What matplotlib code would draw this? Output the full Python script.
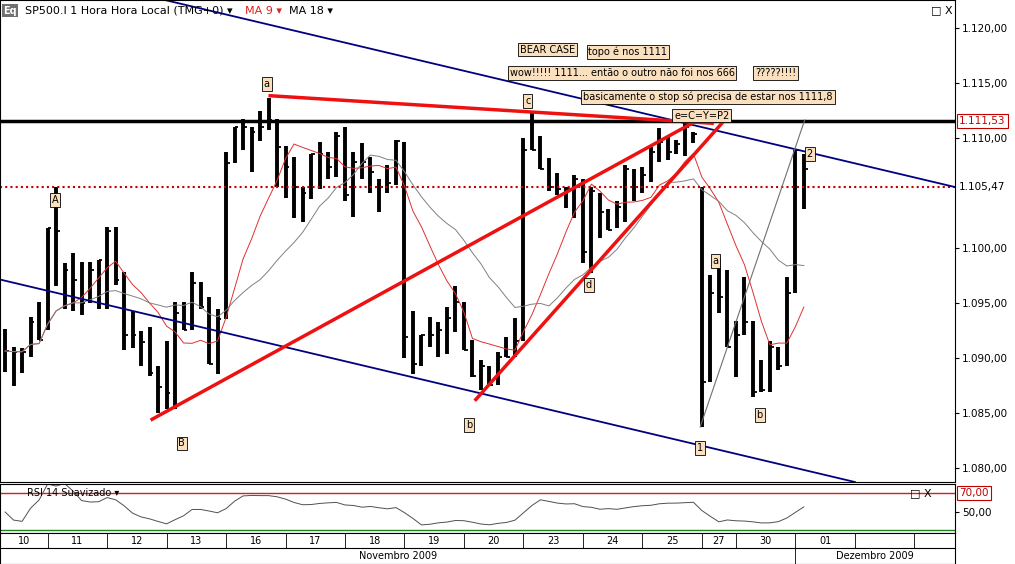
import matplotlib
matplotlib.use("Agg")
import matplotlib.pyplot as plt
import numpy as np
import pandas as pd

high = [1092.6,1091.0,1090.9,1093.7,1095.1,1101.8,1105.5,1098.6,1099.5,1098.7,1098.7,1098.9,1101.9,1101.9,1097.8,1094.2,1092.4,1092.8,1089.2,1091.5,
        1095.1,1095.1,1097.8,1096.9,1095.5,1094.4,1108.7,1111.0,1111.7,1111.0,1112.4,1113.6,1111.7,1109.2,1108.2,1105.5,1108.5,1109.6,1108.7,1110.5,
        1111.0,1108.7,1109.5,1108.2,1106.2,1107.5,1109.8,1109.6,1094.2,1092.1,1093.7,1093.2,1094.6,1096.5,1095.1,1091.6,1089.8,1089.2,1090.5,1091.9,
        1093.6,1110.0,1112.3,1110.1,1108.1,1106.8,1105.5,1106.6,1106.2,1105.5,1105.0,1103.5,1104.2,1107.5,1107.1,1107.3,1109.1,1110.9,1110.1,1109.8,
        1111.4,1110.5,1105.5,1097.5,1099.1,1098.0,1093.3,1097.3,1093.3,1089.8,1091.5,1091.0,1097.3,1108.9,1108.5]
low = [1088.7,1087.4,1088.6,1090.1,1091.6,1092.5,1096.5,1094.4,1094.2,1093.9,1095.0,1094.4,1094.4,1096.6,1090.7,1090.9,1089.2,1088.3,1085.0,1085.3,
       1085.3,1092.5,1092.5,1094.4,1089.4,1088.5,1093.5,1107.7,1108.9,1106.9,1109.7,1110.7,1105.5,1104.5,1102.7,1102.3,1104.4,1105.3,1106.2,1106.4,
       1104.2,1102.8,1106.2,1105.0,1103.2,1105.0,1105.7,1090.0,1088.5,1089.2,1091.0,1090.1,1090.3,1092.3,1090.7,1088.2,1087.1,1087.5,1087.5,1090.1,
       1090.1,1091.5,1108.9,1107.1,1105.1,1104.8,1103.6,1102.7,1098.6,1097.7,1100.9,1101.6,1101.8,1102.3,1104.2,1105.0,1106.0,1107.8,1108.0,1108.5,
       1108.3,1109.5,1083.7,1087.8,1094.1,1091.0,1088.2,1092.1,1086.4,1086.9,1086.9,1088.9,1089.2,1095.9,1103.5]
close = [1090.6,1090.5,1090.5,1093.2,1091.6,1101.8,1101.5,1098.0,1097.1,1095.0,1098.0,1098.9,1101.5,1097.1,1092.1,1092.1,1091.4,1088.6,1087.3,1086.8,
         1094.1,1092.5,1096.8,1094.6,1089.4,1093.5,1107.7,1111.0,1111.0,1110.5,1111.0,1111.6,1109.1,1107.3,1105.5,1105.0,1108.5,1108.5,1107.3,1110.1,
         1104.8,1107.8,1107.8,1106.9,1105.5,1105.9,1109.7,1091.9,1089.4,1092.1,1092.1,1092.5,1093.6,1095.1,1090.7,1088.3,1089.2,1087.5,1090.1,1090.1,
         1091.5,1108.9,1108.9,1107.1,1105.5,1105.3,1105.3,1106.2,1099.6,1105.1,1103.2,1101.6,1103.7,1107.1,1105.5,1106.6,1108.7,1109.6,1108.7,1109.4,
         1111.0,1110.3,1087.8,1095.9,1095.5,1091.0,1092.1,1093.2,1086.9,1087.1,1091.0,1089.2,1095.9,1108.9,1107.1]

day_labels = ["10","11","12","13","16","17","18","19","20","23","24","25","27","30","01","",""]
day_starts = [-0.6,5,12,19,26,33,40,47,54,61,68,75,82,86,93,100,107,111.8]
yticks = [1080,1085,1090,1095,1100,1110,1115,1120]
level_black = 1111.53
level_red = 1105.47
upper_channel = ([18.8,111.8],[1122.5,1105.5])
lower_channel = ([-0.6,100.0],[1097.1,1078.7])
red_lines = [([17.3,81.2],[1084.4,1111.45]),([31.2,83.2],[1113.8,1111.3]),([55.4,84.7],[1086.2,1111.6])]
grey_line = ([81.8,94.1],[1083.7,1111.6])
labels = [("A",5.9,1104.3),("B",20.8,1082.2),("a",30.8,1114.9),("b",54.6,1083.9),("c",61.5,1113.3),
          ("d",68.7,1096.6),("a",83.6,1098.8),("b",88.8,1084.8),("1",81.8,1081.8),("2",94.7,1108.5),
          ("BEAR CASE",63.8,1118.0),("topo é nos 1111",73.3,1117.8),
          ("wow!!!!! 1111... então o outro não foi nos 666",72.6,1115.9),("?????!!!!",90.7,1115.9),
          ("basicamente o stop só precisa de estar nos 1111,8",82.7,1113.7),("e=C=Y=P2",82.0,1112.0)]

def fmt(v):
    s = f"{v:,.2f}"
    return s.replace(",", "X").replace(".", ",").replace("X", ".")

c = pd.Series(close)
ma9 = c.rolling(9, min_periods=1).mean()
ma18 = c.rolling(18, min_periods=1).mean()
d = c.diff().fillna(0)
up = d.clip(lower=0).ewm(alpha=1/14, adjust=True).mean() + 0.05
dn = (-d.clip(upper=0)).ewm(alpha=1/14, adjust=True).mean() + 0.05
rsi = (100 - 100/(1 + up/dn)).rolling(3, min_periods=1).mean()

x = np.arange(len(close))
XL = (-0.6, 111.8)
fig = plt.figure(figsize=(10.15, 5.64), dpi=100)
ax = fig.add_axes([0, 0.1454, 0.941, 0.8546])
ax.set_xlim(*XL); ax.set_ylim(1078.7, 1122.5)
ax.vlines(x, low, high, color="black", lw=2.8)
ax.hlines(close, x, x + 0.45, color="black", lw=1.3)
ax.plot(x, ma9, color="#e03030", lw=0.7)
ax.plot(x, ma18, color="#808080", lw=0.7)
ax.axhline(level_black, color="black", lw=2.5)
ax.axhline(level_red, color="#c00000", lw=1.5, ls=(0, (1, 1.5)))
ax.plot(*upper_channel, color="#000080", lw=1.3)
ax.plot(*lower_channel, color="#000080", lw=1.3)
for lx, ly in red_lines:
    ax.plot(lx, ly, color="#ee1111", lw=2.5)
ax.plot(*grey_line, color="#707070", lw=0.8)
for t, lx, ly in labels:
    ax.text(lx, ly, t, fontsize=7, ha="center", va="center",
            bbox=dict(boxstyle="square,pad=0.2", fc="#fbe0c0", ec="black", lw=0.6))
ax.yaxis.tick_right()
ax.set_yticks(yticks)
ax.set_yticklabels([fmt(v) for v in yticks], fontsize=7.5)
ax.tick_params(axis="y", direction="out", length=3, pad=2)
ax.set_xticks([])
ax.annotate(fmt(level_black), xy=(1, level_black), xycoords=("axes fraction", "data"), xytext=(3, 0),
            textcoords="offset points", va="center", fontsize=7.5, color="#c00000",
            bbox=dict(boxstyle="square,pad=0.2", fc="white", ec="#c00000", lw=0.8))
ax.annotate(fmt(level_red), xy=(1, level_red), xycoords=("axes fraction", "data"), xytext=(3, 0),
            textcoords="offset points", va="center", fontsize=7.5, color="black")
fig.text(0.003, 0.981, "Eq", fontsize=7, color="white", fontweight="bold", va="center",
         bbox=dict(boxstyle="square,pad=0.15", fc="#707070", ec="none"))
fig.text(0.025, 0.981, "SP500.I 1 Hora Hora Local (TMG+0) ▾", fontsize=8, va="center")
fig.text(0.241, 0.981, "MA 9 ▾", fontsize=8, va="center", color="#e02020")
fig.text(0.285, 0.981, "MA 18 ▾", fontsize=8, va="center")
fig.text(0.917, 0.981, "□ X", fontsize=8, va="center")

ar = fig.add_axes([0, 0.055, 0.941, 0.0869])
ar.set_xlim(*XL); ar.set_ylim(27.9, 79.5)
ar.plot(x, rsi, color="#505050", lw=0.7)
ar.axhline(70, color="#d02020", lw=1)
ar.axhline(31, color="#208020", lw=1)
ar.yaxis.tick_right(); ar.set_xticks([])
ar.set_yticks([50]); ar.set_yticklabels(["50,00"], fontsize=7.5)
ar.tick_params(axis="y", length=3, pad=2)
ar.annotate("70,00", xy=(1, 70), xycoords=("axes fraction", "data"), xytext=(3, 0),
            textcoords="offset points", va="center", fontsize=7.5, color="#c00000",
            bbox=dict(boxstyle="square,pad=0.2", fc="white", ec="#c00000", lw=0.8))
ar.text(0.028, 0.82, "RSI 14 Suavizado ▾", transform=ar.transAxes, fontsize=7, va="center")
ar.text(0.975, 0.82, "□ X", transform=ar.transAxes, fontsize=8, va="center", ha="right")

ad = fig.add_axes([0, 0.0, 0.941, 0.055])
ad.set_xlim(*XL); ad.set_ylim(0, 2)
ad.set_xticks([]); ad.set_yticks([])
ad.axhline(1, color="black", lw=0.8)
for i, lab in enumerate(day_labels):
    a, b = day_starts[i], day_starts[i + 1]
    ad.plot([a, a], [1, 2], color="black", lw=0.6)
    ad.text((a + b) / 2, 1.5, lab, ha="center", va="center", fontsize=7)
ad.plot([93, 93], [0, 1], color="black", lw=0.6)
ad.text(46.2, 0.5, "Novembro 2009", ha="center", va="center", fontsize=7)
ad.text(102.4, 0.5, "Dezembro 2009", ha="center", va="center", fontsize=7)
fig.savefig("out.png", dpi=100)
